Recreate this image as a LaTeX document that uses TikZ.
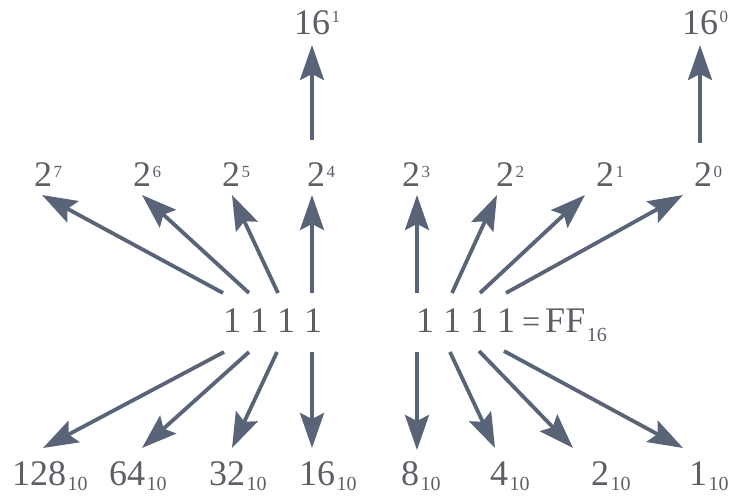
\documentclass[tikz,border=0pt]{standalone}
\usepackage{fontspec}
\setmainfont{Liberation Serif}
\usetikzlibrary{arrows.meta}
\definecolor{txt}{HTML}{5C5F66}
\definecolor{arrc}{HTML}{5A6478}
\newcommand{\bigf}{\fontsize{36}{40}\selectfont}
\newcommand{\supx}[2]{\kern1.5pt\raisebox{#2}{\fontsize{17}{17}\selectfont #1}}
\newcommand{\subx}[2]{\kern1.5pt\raisebox{-#2}{\fontsize{20}{20}\selectfont #1}}
\begin{document}
\begin{tikzpicture}[x=1pt,y=-1pt,
  lbl/.style={inner sep=0pt,anchor=base west,text=txt,font=\bigf},
  arr/.style={draw=arrc,line width=3.8pt,-{Stealth[length=35pt,width=24pt,inset=6pt]}}]
\useasboundingbox (0,0) rectangle (729,497);
% top labels
\node[lbl] (h1) at (294,35) {16\supx{1}{12pt}};
\node[lbl] (h0) at (682,35) {16\supx{0}{12pt}};
% powers of two
\node[lbl] (p7) at (34,187) {2\supx{7}{9pt}};
\node[lbl] (p6) at (133,187) {2\supx{6}{9pt}};
\node[lbl] (p5) at (222,187) {2\supx{5}{9pt}};
\node[lbl] (p4) at (307,187) {2\supx{4}{9pt}};
\node[lbl] (p3) at (402,187) {2\supx{3}{9pt}};
\node[lbl] (p2) at (496,187) {2\supx{2}{9pt}};
\node[lbl] (p1) at (596,187) {2\supx{1}{9pt}};
\node[lbl] (p0) at (694,187) {2\supx{0}{9pt}};
% middle
\node[lbl] (hi) at (223,333) {1\hspace{9pt}1\hspace{9pt}1\hspace{9pt}1};
\node[lbl] (lo) at (416,333) {1\hspace{9pt}1\hspace{9pt}1\hspace{9pt}1\hspace{7pt}{\fontsize{32}{32}\selectfont =}\hspace{5pt}FF\subx{16}{9pt}};
% bottom
\node[lbl] (d128) at (12,485) {128\subx{10}{5pt}};
\node[lbl] (d64) at (109,485) {64\subx{10}{5pt}};
\node[lbl] (d32) at (209,485) {32\subx{10}{5pt}};
\node[lbl] (d16) at (299,485) {16\subx{10}{5pt}};
\node[lbl] (d8) at (401,485) {8\subx{10}{5pt}};
\node[lbl] (d4) at (490,485) {4\subx{10}{5pt}};
\node[lbl] (d2) at (591,485) {2\subx{10}{5pt}};
\node[lbl] (d1) at (689,485) {1\subx{10}{5pt}};
% arrow endpoints
\coordinate (a1s) at (312,140); \coordinate (a1t) at (312,45);
\coordinate (a0s) at (700,143); \coordinate (a0t) at (700,45);
\coordinate (u7s) at (223,293); \coordinate (u7t) at (42,195);
\coordinate (u6s) at (249,293); \coordinate (u6t) at (142,195);
\coordinate (u5s) at (278,293); \coordinate (u5t) at (232,195);
\coordinate (u4s) at (312,293); \coordinate (u4t) at (312,195);
\coordinate (u3s) at (417,293); \coordinate (u3t) at (417,195);
\coordinate (u2s) at (452,293); \coordinate (u2t) at (497,195);
\coordinate (u1s) at (480,293); \coordinate (u1t) at (585,195);
\coordinate (u0s) at (506,293); \coordinate (u0t) at (683,195);
\coordinate (l7s) at (224,352); \coordinate (l7t) at (43,448);
\coordinate (l6s) at (249,352); \coordinate (l6t) at (142,448);
\coordinate (l5s) at (277,352); \coordinate (l5t) at (232,448);
\coordinate (l4s) at (312,352); \coordinate (l4t) at (312,448);
\coordinate (l3s) at (417,352); \coordinate (l3t) at (417,450);
\coordinate (l2s) at (450,352); \coordinate (l2t) at (495,448);
\coordinate (l1s) at (479,351); \coordinate (l1t) at (573,448);
\coordinate (l0s) at (504,351); \coordinate (l0t) at (683,448);
\foreach \a in {a1,a0,u7,u6,u5,u4,u3,u2,u1,u0,l7,l6,l5,l4,l3,l2,l1,l0}
  \draw[arr] (\a s) -- (\a t);
\end{tikzpicture}
\end{document}
